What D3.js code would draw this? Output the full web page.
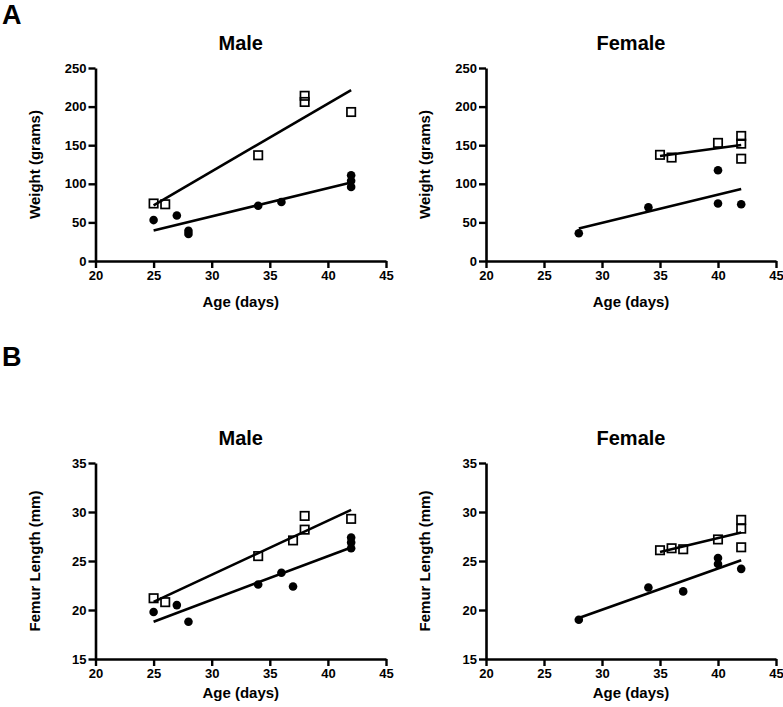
<!DOCTYPE html>
<html>
<head>
<meta charset="utf-8">
<script src="https://cdn.jsdelivr.net/npm/d3@7"></script>
<style>
  html, body { margin: 0; padding: 0; background: #fff; }
  svg { display: block; }
  text { font-family: Arial, "Liberation Sans", Helvetica, sans-serif; font-weight: bold; fill: #000; }
</style>
</head>
<body>
<svg id="chart" width="783" height="707"></svg>
<script>
// ---------- data ----------
const ageTicks = [20, 25, 30, 35, 40, 45];
const weightTicks = [0, 50, 100, 150, 200, 250];
const femurTicks = [15, 20, 25, 30, 35];

const weightMaleOpenAge = [25, 26, 34, 38, 38, 42];
const weightMaleOpenVal = [74.5, 73.5, 137, 206, 214, 193];
const weightMaleFilledAge = [25, 27, 28, 28, 34, 36, 42, 42, 42];
const weightMaleFilledVal = [53, 59, 39, 35, 71.5, 76.5, 111, 104, 96];

const weightFemaleOpenAge = [35, 36, 40, 42, 42, 42];
const weightFemaleOpenVal = [137.5, 134, 153, 162, 152, 132.5];
const weightFemaleFilledAge = [28, 34, 40, 40, 42];
const weightFemaleFilledVal = [36, 69.5, 117.5, 74.5, 73.5];

const femurMaleOpenAge = [25, 26, 34, 37, 38, 38, 42];
const femurMaleOpenVal = [21.2, 20.8, 25.5, 27.1, 29.6, 28.2, 29.3];
const femurMaleFilledAge = [25, 27, 28, 34, 36, 37, 42, 42, 42];
const femurMaleFilledVal = [19.8, 20.5, 18.8, 22.6, 23.8, 22.4, 27.4, 26.9, 26.3];

const femurFemaleOpenAge = [35, 36, 37, 40, 42, 42, 42];
const femurFemaleOpenVal = [26.1, 26.3, 26.2, 27.2, 29.2, 28.3, 26.4];
const femurFemaleFilledAge = [28, 34, 37, 40, 40, 42];
const femurFemaleFilledVal = [19.0, 22.3, 21.9, 25.3, 24.7, 24.2];

const panelLetters = ["A", "B"];
const panelTitles = ["Male", "Female"];
const yTitles = ["Weight (grams)", "Femur Length (mm)"];
const xTitle = "Age (days)";

// ---------- layout ----------
const svg = d3.select("#chart");
const colX = [[95.5, 386], [486, 776]];
const rowY = [[261, 68], [659, 463]];
const rowDomain = [[0, 250], [15, 35]];
const rowTicks = [weightTicks, femurTicks];
const letterY = [24, 366];
const xTitleOffset = [46, 39];

const panels = [
  { row: 0, col: 0, open: [weightMaleOpenAge, weightMaleOpenVal], filled: [weightMaleFilledAge, weightMaleFilledVal] },
  { row: 0, col: 1, open: [weightFemaleOpenAge, weightFemaleOpenVal], filled: [weightFemaleFilledAge, weightFemaleFilledVal] },
  { row: 1, col: 0, open: [femurMaleOpenAge, femurMaleOpenVal], filled: [femurMaleFilledAge, femurMaleFilledVal] },
  { row: 1, col: 1, open: [femurFemaleOpenAge, femurFemaleOpenVal], filled: [femurFemaleFilledAge, femurFemaleFilledVal] }
];

function fit(xs, ys) {
  const mx = d3.mean(xs), my = d3.mean(ys);
  let sxy = 0, sxx = 0;
  xs.forEach((x, i) => { sxy += (x - mx) * (ys[i] - my); sxx += (x - mx) * (x - mx); });
  const b = sxy / sxx, a = my - b * mx;
  const x0 = d3.min(xs), x1 = d3.max(xs);
  return [[x0, a + b * x0], [x1, a + b * x1]];
}

panelLetters.forEach((L, r) => {
  svg.append("text").attr("x", 2).attr("y", letterY[r])
    .style("font-size", "27px").text(L);
});

panels.forEach(p => {
  const x = d3.scaleLinear().domain([20, 45]).range(colX[p.col]);
  const y = d3.scaleLinear().domain(rowDomain[p.row]).range(rowY[p.row]);
  const g = svg.append("g");

  // title
  g.append("text").attr("x", (colX[p.col][0] + colX[p.col][1]) / 2)
    .attr("y", rowY[p.row][1] - 18).attr("text-anchor", "middle")
    .style("font-size", "20px").text(panelTitles[p.col]);

  // axes
  const ya = g.append("g").attr("transform", `translate(${colX[p.col][0]},0)`)
    .call(d3.axisLeft(y).tickValues(rowTicks[p.row]).tickSize(7).tickSizeOuter(0).tickPadding(2));
  const xa = g.append("g").attr("transform", `translate(0,${rowY[p.row][0]})`)
    .call(d3.axisBottom(x).tickValues(ageTicks).tickSize(7).tickSizeOuter(0).tickPadding(3));
  [ya, xa].forEach(a => {
    a.select(".domain").attr("stroke", "#000").attr("stroke-width", 2.6);
    a.selectAll(".tick line").attr("stroke", "#000").attr("stroke-width", 2.4);
    a.selectAll(".tick text").style("font-size", "13px").style("font-family", "Arial, 'Liberation Sans', sans-serif").style("font-weight", "bold").attr("fill", "#000");
  });

  // axis titles
  g.append("text").attr("x", (colX[p.col][0] + colX[p.col][1]) / 2)
    .attr("y", rowY[p.row][0] + xTitleOffset[p.row]).attr("text-anchor", "middle")
    .style("font-size", "15px").text(xTitle);
  const ymid = (rowY[p.row][0] + rowY[p.row][1]) / 2;
  g.append("text")
    .attr("transform", `translate(${colX[p.col][0] - 56},${ymid}) rotate(-90)`)
    .attr("text-anchor", "middle").style("font-size", "15px").text(yTitles[p.row]);

  // regression lines
  const line = d3.line().x(d => x(d[0])).y(d => y(d[1]));
  [p.open, p.filled].forEach(s => {
    g.append("path").attr("d", line(fit(s[0], s[1])))
      .attr("fill", "none").attr("stroke", "#000").attr("stroke-width", 2.6);
  });

  // filled circles
  g.selectAll(".c").data(p.filled[0].map((a, i) => [a, p.filled[1][i]])).enter()
    .append("circle").attr("cx", d => x(d[0])).attr("cy", d => y(d[1]))
    .attr("r", 4.3).attr("fill", "#000");

  // open squares
  const s = 8.4;
  g.selectAll(".s").data(p.open[0].map((a, i) => [a, p.open[1][i]])).enter()
    .append("rect").attr("x", d => x(d[0]) - s / 2).attr("y", d => y(d[1]) - s / 2)
    .attr("width", s).attr("height", s)
    .attr("fill", "none").attr("stroke", "#000").attr("stroke-width", 1.7);
});
</script>
</body>
</html>
